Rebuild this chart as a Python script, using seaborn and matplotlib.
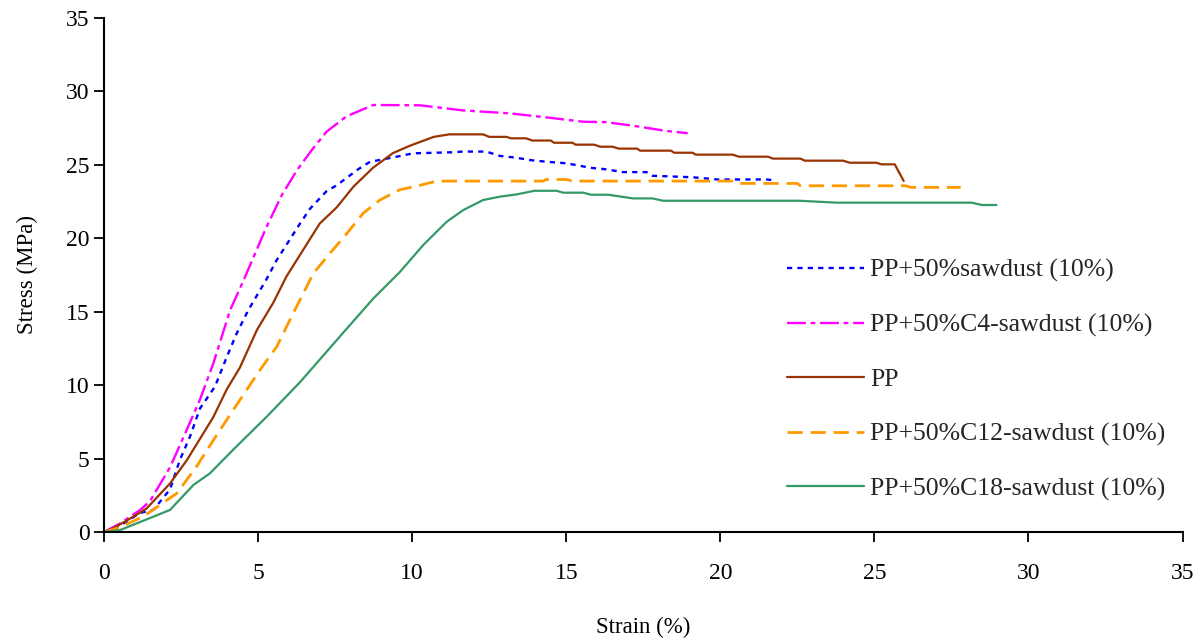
import matplotlib
matplotlib.use("Agg")
import matplotlib.pyplot as plt
import seaborn as sns

# stress-strain curves (strain %, stress MPa)
saw_x = [0, 0.5, 1.17, 1.6, 2.14, 2.46, 2.79, 3.11, 3.6, 3.98, 4.3, 4.68, 5.27, 5.6, 6.36, 6.68,
         7.22, 7.55, 8.25, 8.63, 9.38, 10.03, 11.3, 11.65, 12.4, 12.85, 13.3, 13.9, 14.4, 15.0,
         15.4, 15.76, 16.25, 16.85, 17.6, 17.8, 19.1, 19.9, 21.5, 21.7]
saw_y = [0, 0.4, 1.3, 1.5, 2.9, 4.9, 6.5, 8.4, 9.9, 11.9, 13.5, 15.1, 17.2, 18.5, 21.0, 22.0,
         23.2, 23.6, 24.7, 25.2, 25.5, 25.78, 25.85, 25.9, 25.9, 25.6, 25.5, 25.3, 25.2, 25.1,
         24.95, 24.8, 24.7, 24.5, 24.5, 24.25, 24.15, 24.0, 24.0, 23.95]

c4_x = [0, 0.52, 1.17, 1.49, 2.14, 2.63, 3.11, 3.55, 4.09, 4.52, 4.95, 5.28, 5.76, 6.25, 6.74,
        7.22, 7.87, 8.74, 10.25, 11.65, 13.17, 14.47, 15.54, 16.3, 17.16, 18.26, 18.94]
c4_y = [0, 0.58, 1.5, 2.1, 4.4, 6.7, 9.0, 11.5, 15.1, 17.1, 19.2, 20.8, 22.9, 24.6, 26.0,
        27.25, 28.3, 29.07, 29.05, 28.7, 28.5, 28.2, 27.93, 27.9, 27.66, 27.3, 27.15]

pp_x = [0, 0.3, 0.95, 1.38, 2.14, 2.69, 3.54, 3.98, 4.41, 4.96, 5.49, 5.92, 6.46, 7.0, 7.55,
        8.09, 8.73, 9.38, 9.93, 10.7, 11.2, 12.3, 12.5, 13.06, 13.2, 13.7, 13.9, 14.5, 14.6,
        15.2, 15.3, 15.9, 16.1, 16.5, 16.7, 17.3, 17.4, 18.4, 18.5, 19.1, 19.2, 20.4, 20.6,
        21.55, 21.7, 22.6, 22.74, 23.98, 24.2, 25.06, 25.23, 25.66, 25.95]
pp_y = [0, 0.25, 1.04, 1.6, 3.3, 4.9, 7.8, 9.7, 11.2, 13.75, 15.6, 17.4, 19.2, 21.0, 22.1,
        23.5, 24.8, 25.8, 26.3, 26.9, 27.07, 27.07, 26.9, 26.9, 26.8, 26.8, 26.65, 26.65, 26.5,
        26.5, 26.37, 26.37, 26.23, 26.23, 26.1, 26.1, 25.96, 25.96, 25.82, 25.82, 25.69, 25.69,
        25.55, 25.55, 25.42, 25.42, 25.28, 25.28, 25.14, 25.14, 25.03, 25.03, 23.9]

c12_x = [0, 0.5, 1.27, 2.36, 3.0, 3.55, 4.19, 5.06, 5.6, 6.14, 6.79, 7.33, 7.87, 8.41, 8.95,
         9.6, 10.25, 10.79, 14.25, 14.35, 15.0, 15.2, 20.4, 20.6, 22.5, 22.6, 26.0, 26.2, 27.8]
c12_y = [0, 0.3, 1.05, 2.63, 4.45, 6.26, 8.3, 11.03, 12.6, 14.9, 17.6, 18.97, 20.3, 21.7, 22.6,
         23.3, 23.6, 23.89, 23.89, 24.0, 24.0, 23.89, 23.89, 23.73, 23.73, 23.57, 23.57, 23.46, 23.46]

c18_x = [0, 0.52, 1.6, 2.14, 2.9, 3.44, 4.19, 5.28, 6.36, 7.65, 8.74, 9.6, 9.93, 10.36, 11.12,
         11.66, 12.3, 12.85, 13.38, 13.97, 14.68, 14.9, 15.55, 15.8, 16.36, 17.17, 17.8, 18.14,
         22.57, 23.76, 28.15, 28.5, 28.96]
c18_y = [0, 0.13, 1.04, 1.5, 3.2, 4.0, 5.6, 7.85, 10.2, 13.3, 15.9, 17.7, 18.5, 19.54, 21.12,
         21.92, 22.6, 22.83, 22.98, 23.23, 23.23, 23.1, 23.1, 22.96, 22.96, 22.71, 22.71, 22.55,
         22.55, 22.42, 22.42, 22.26, 22.26]

labels = ["PP+50%sawdust (10%)", "PP+50%C4-sawdust (10%)", "PP",
          "PP+50%C12-sawdust (10%)", "PP+50%C18-sawdust (10%)"]

sns.set_theme(style="ticks")
plt.rcParams["font.family"] = ["Liberation Serif", "DejaVu Serif"]

fig = plt.figure(figsize=(12.03, 6.39), dpi=100)
ax = fig.add_axes([0.0865, 0.1675, 0.8965, 0.8045])

series = [
    (saw_x, saw_y, "#0000FF", 1.7, (2.2, 2.2)),
    (c4_x, c4_y, "#FF00FF", 1.7, (8, 2, 2, 2)),
    (pp_x, pp_y, "#993300", 1.6, None),
    (c12_x, c12_y, "#FF9900", 2.0, (5.5, 2.8)),
    (c18_x, c18_y, "#339966", 1.6, None),
]
for (xs, ys, col, lw, dash), lab in zip(series, labels):
    sns.lineplot(x=xs, y=ys, ax=ax, color=col, linewidth=lw, sort=False,
                 estimator=None, label=lab)
    if dash is not None:
        ax.lines[-1].set_dashes(dash)

ax.set_xlim(0, 35)
ax.set_ylim(0, 35)
ax.set_xticks(range(0, 36, 5))
ax.set_yticks(range(0, 36, 5))
ax.tick_params(axis="both", labelsize=17, length=7, width=1.3, color="black",
               labelcolor="black", direction="out")
ax.tick_params(axis="x", pad=15)
for s in ["left", "bottom"]:
    ax.spines[s].set_linewidth(1.5)
    ax.spines[s].set_color("black")
sns.despine(ax=ax)

ax.set_xlabel("Strain (%)", fontsize=16.5, labelpad=24, color="black")
ax.set_ylabel("Stress (MPa)", fontsize=16.5, labelpad=20, color="black")

ax.legend(loc="upper left", bbox_to_anchor=(0.654, 0.595), bbox_transform=fig.transFigure,
          frameon=False, fontsize=18.5, handlelength=3.0, handletextpad=0.25,
          labelspacing=1.22, borderpad=0, borderaxespad=0)

fig.savefig("out.png", dpi=100)
